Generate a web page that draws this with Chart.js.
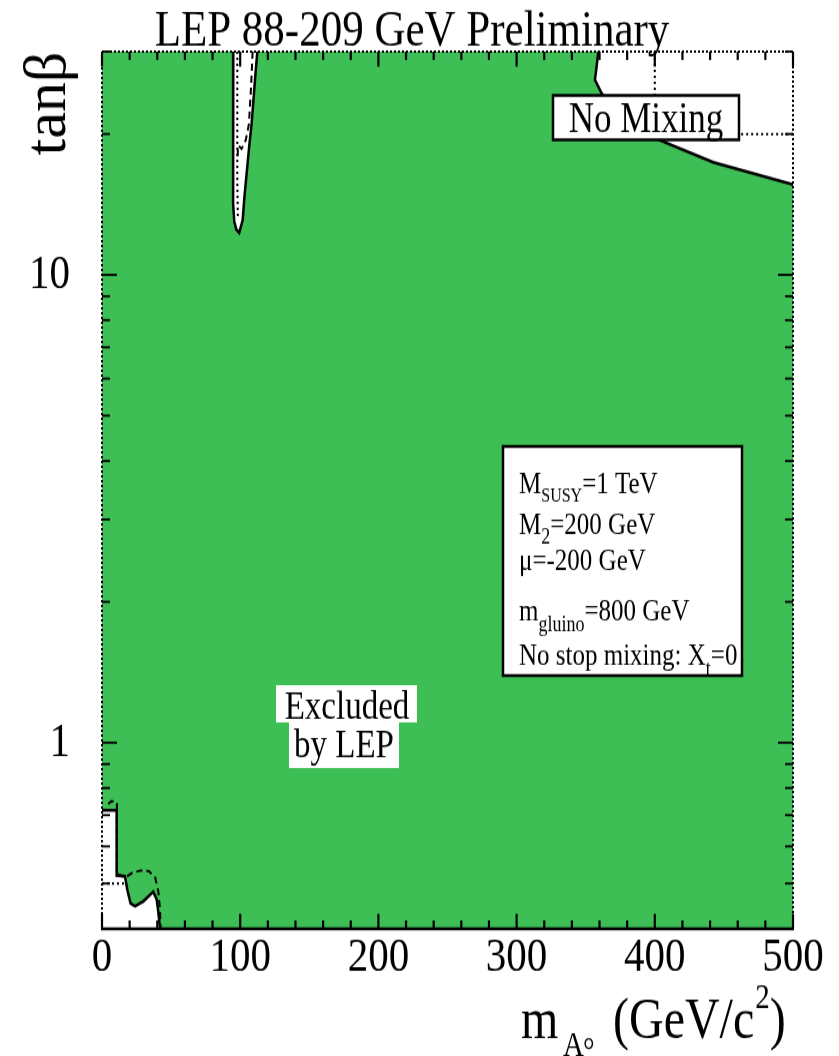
<!DOCTYPE html>
<html><head><meta charset="utf-8">
<script src="https://cdn.jsdelivr.net/npm/chart.js@4.4.0/dist/chart.umd.min.js"></script>
<style>html,body{margin:0;padding:0;background:#fff;overflow:hidden}</style>
</head><body>
<canvas id="c" width="839" height="880" style="width:839px;height:1056px;display:block"></canvas>
<script>
// ---------- data ----------
const M_RANGE = [0, 500];
const TANB_RANGE = [0.4, 30];
const X_MAJOR = [0, 100, 200, 300, 400, 500];
const X_MINOR = [20,40,60,80,120,140,160,180,220,240,260,280,320,340,360,380,420,440,460,480];
const Y_MAJOR = [1, 10];
const Y_MINOR = [0.4,0.5,0.6,0.7,0.8,0.9,2,3,4,5,6,7,8,9,20,30];

// allowed sliver near mA ~ 100 (observed, solid)
const sliverM    = [95.0, 94.8, 94.8, 95.0, 95.7, 97.2, 99.3, 101.8, 103.0, 104.7, 106.5, 108.3, 110.7, 112.4];
const sliverTanb = [30,   24,   18,   14.2, 13.0, 12.5, 12.3, 13.1,  14.6,  16.5,  18.8,  21.1,  26.1,  30];
// expected (dotted) and dashed contours inside the sliver
const sliverExpM    = [97.9, 97.9, 98.3];
const sliverExpTanb = [30, 16, 13.2];
const sliverDashM    = [109.0, 107.8, 106.3, 104.0, 101.0, 98.5, 98.0];
const sliverDashTanb = [30,    25,    21,    19.4,  18.6,  18.9, 17.6];

// allowed region at top right (observed, solid)
const trM    = [359.1, 357.9, 356.7, 361.6, 375, 390, 403.8, 442.3, 500];
const trTanb = [30,    27.9,  26.1,  24.4,  22.2, 20.6, 19.4, 17.4, 15.6];
// expected (dotted)
const trExpM    = [400, 400, 500];
const trExpTanb = [30, 20, 20];

// allowed region at bottom left (observed, solid)
const blM    = [0,     10.6,  10.6,  16.6,  18.3,  20.7,  23.9,  29.9,  37.1,  39.6,  40.8,  42.0];
const blTanb = [0.717, 0.717, 0.520, 0.518, 0.485, 0.453, 0.447, 0.458, 0.480, 0.462, 0.433, 0.40];
// dashed
const blDashM    = [4.5,  7.0,  10.8,  10.8,  16.6,  22.0,  28.0,  34.0,  38.5,  40.8, 42.0, 42.4];
const blDashTanb = [0.74, 0.75, 0.745, 0.525, 0.515, 0.527, 0.533, 0.531, 0.515, 0.48, 0.44, 0.40];
// dotted
const blExpM    = [0, 16.6];
const blExpTanb = [0.5, 0.5];

// ---------- helpers ----------
const STRETCH = 1056 / 880;
const pts = (ms, ts) => ms.map((m, i) => ({x: m, y: ts[i]}));
const GREEN = '#3dbf55';
const SERIF = '"Liberation Serif", "Times New Roman", serif';

function polyFill(data, color, order) {
  return {data, fill: 'shape', backgroundColor: color, borderWidth: 0, pointRadius: 0, order};
}
function curve(data, dash, width) {
  return {data, fill: false, borderColor: '#000', borderWidth: width, borderDash: dash, pointRadius: 0, order: 1};
}

const datasets = [
  polyFill(pts([M_RANGE[0], M_RANGE[1], M_RANGE[1], M_RANGE[0]],
               [TANB_RANGE[0], TANB_RANGE[0], TANB_RANGE[1], TANB_RANGE[1]]), GREEN, 10),
  polyFill(pts(sliverM, sliverTanb), '#fff', 5),
  polyFill(pts([...trM, M_RANGE[1]], [...trTanb, TANB_RANGE[1]]), '#fff', 5),
  polyFill(pts([M_RANGE[0], ...blM], [TANB_RANGE[0], ...blTanb]), '#fff', 5),
  curve(pts(sliverM, sliverTanb), [], 2.5),
  curve(pts(trM, trTanb), [], 2.5),
  curve(pts(blM, blTanb), [], 2.5),
  curve(pts(sliverExpM, sliverExpTanb), [2, 3], 2),
  curve(pts(sliverDashM, sliverDashTanb), [6, 4], 2),
  curve(pts(trExpM, trExpTanb), [2, 3], 2),
  curve(pts(blDashM, blDashTanb), [6, 4], 2),
  curve(pts(blExpM, blExpTanb), [2, 3], 2)
];

function seg(ctx, x1, y1, x2, y2) { ctx.beginPath(); ctx.moveTo(x1, y1); ctx.lineTo(x2, y2); ctx.stroke(); }
function runs(ctx, x, y, parts) {
  for (const [t, size, dy] of parts) {
    ctx.font = size + 'px ' + SERIF;
    ctx.fillText(t, x, y + dy);
    x += ctx.measureText(t).width;
  }
  return x;
}

const deco = {
  id: 'deco',
  beforeDraw(chart) {
    const {ctx, width, height} = chart;
    ctx.save(); ctx.fillStyle = '#fff'; ctx.fillRect(0, 0, width, height); ctx.restore();
  },
  afterDatasetsDraw(chart) {
    const {ctx, chartArea: a, scales: {x, y}} = chart;
    ctx.save();
    ctx.fillStyle = '#000';
    ctx.textBaseline = 'alphabetic';

    // "No Mixing" box
    ctx.fillStyle = '#fff'; ctx.fillRect(553, 79.5, 186, 37);
    ctx.strokeStyle = '#000'; ctx.lineWidth = 2.5; ctx.strokeRect(553, 79.5, 186, 37);
    ctx.fillStyle = '#000'; ctx.textAlign = 'center';
    ctx.font = '35px ' + SERIF; ctx.fillText('No Mixing', 646, 109.7);

    // parameter box
    ctx.fillStyle = '#fff'; ctx.fillRect(503, 372, 239, 191);
    ctx.lineWidth = 2.5; ctx.strokeRect(503, 372, 239, 191);
    ctx.fillStyle = '#000'; ctx.textAlign = 'left';
    runs(ctx, 519, 410.8, [['M', 25, 0], ['SUSY', 16, 7], ['=1 TeV', 25, 0]]);
    runs(ctx, 519, 445,   [['M', 25, 0], ['2', 18, 8], ['=200 GeV', 25, 0]]);
    runs(ctx, 519, 475,   [['\u03bc=-200 GeV', 25, 0]]);
    runs(ctx, 519, 516.7, [['m', 25, 0], ['gluino', 18, 9], ['=800 GeV', 25, 0]]);
    runs(ctx, 519, 554.2, [['No stop mixing: X', 25, 0], ['t', 18, 9], ['=0', 25, 0]]);

    // Excluded by LEP
    ctx.fillStyle = '#fff';
    ctx.fillRect(276, 571, 141, 31);
    ctx.fillRect(289, 601.5, 110, 38.5);
    ctx.fillStyle = '#000'; ctx.textAlign = 'center';
    ctx.font = '33px ' + SERIF;
    ctx.fillText('Excluded', 347, 598.6);
    ctx.fillText('by LEP', 344, 631.1);

    // tick marks
    ctx.strokeStyle = '#000';
    ctx.lineWidth = 2.2;
    const vt = (v, len) => { const px = x.getPixelForValue(v); seg(ctx, px, a.bottom, px, a.bottom - len); seg(ctx, px, a.top, px, a.top + len); };
    X_MAJOR.forEach(v => vt(v, 12.5)); X_MINOR.forEach(v => vt(v, 7));
    ctx.lineWidth = 1.8;
    const ht = (v, len) => { const py = y.getPixelForValue(v); seg(ctx, a.left, py, a.left + len, py); seg(ctx, a.right, py, a.right - len, py); };
    Y_MAJOR.forEach(v => ht(v, 15)); Y_MINOR.forEach(v => ht(v, 8));

    // frame
    ctx.lineWidth = 2.3;
    seg(ctx, a.left - 1, a.bottom, a.right + 1, a.bottom);
    ctx.lineWidth = 2; ctx.setLineDash([2, 2]);
    seg(ctx, a.left, a.bottom, a.left, a.top);
    seg(ctx, a.left, a.top, a.right, a.top);
    seg(ctx, a.right, a.top, a.right, a.bottom);
    ctx.restore();
  },
  afterDraw(chart) {
    const {ctx} = chart;
    ctx.save();
    ctx.fillStyle = '#000';
    ctx.textBaseline = 'alphabetic';
    ctx.textAlign = 'center';
    ctx.font = '43px ' + SERIF;
    ctx.fillText('LEP 88-209 GeV Preliminary', 412, 37.5);

    // y axis title (drawn undistorted in screen space)
    ctx.save();
    ctx.scale(1, 1 / STRETCH);
    ctx.translate(65, 103.5); ctx.rotate(-Math.PI / 2);
    ctx.font = '60px ' + SERIF;
    ctx.fillText('tan\u03b2', 0, 0);
    ctx.restore();

    // x axis title
    ctx.textAlign = 'left';
    ctx.font = '48px ' + SERIF; ctx.fillText('m', 521, 865.3);
    ctx.font = '29px ' + SERIF; ctx.fillText('A', 563, 880);
    ctx.font = '29px ' + SERIF; ctx.fillText('\u00b0', 583, 885);
    ctx.font = '48px ' + SERIF; ctx.fillText('(GeV/c', 613, 865.3);
    let xe = 613 + ctx.measureText('(GeV/c').width + 1;
    ctx.font = '29px ' + SERIF; ctx.fillText('2', xe, 840);
    xe += ctx.measureText('2').width;
    ctx.font = '48px ' + SERIF; ctx.fillText(')', xe, 865.3);
    ctx.restore();
  }
};

new Chart(document.getElementById('c'), {
  type: 'line',
  data: {datasets},
  options: {
    responsive: false,
    devicePixelRatio: 1,
    animation: false,
    events: [],
    layout: {padding: {top: 43, right: 46, bottom: 0, left: 0}},
    plugins: {legend: {display: false}, tooltip: {enabled: false}, title: {display: false}},
    scales: {
      x: {
        type: 'linear', min: M_RANGE[0], max: M_RANGE[1],
        afterBuildTicks: s => { s.ticks = X_MAJOR.map(v => ({value: v})); },
        afterFit: s => { s.height = 106; },
        grid: {display: false, drawTicks: false},
        border: {display: false},
        ticks: {autoSkip: false, maxRotation: 0, padding: 0, color: '#000',
                font: {family: SERIF, size: 41}, callback: v => String(v)}
      },
      y: {
        type: 'logarithmic', min: TANB_RANGE[0], max: TANB_RANGE[1],
        afterBuildTicks: s => { s.ticks = Y_MAJOR.map(v => ({value: v})); },
        afterFit: s => { s.width = 102; },
        grid: {display: false, drawTicks: false},
        border: {display: false},
        ticks: {autoSkip: false, padding: 32, color: '#000',
                font: {family: SERIF, size: 41, lineHeight: 0.2}, callback: v => String(v)}
      }
    }
  },
  plugins: [deco]
});
</script>
</body></html>
